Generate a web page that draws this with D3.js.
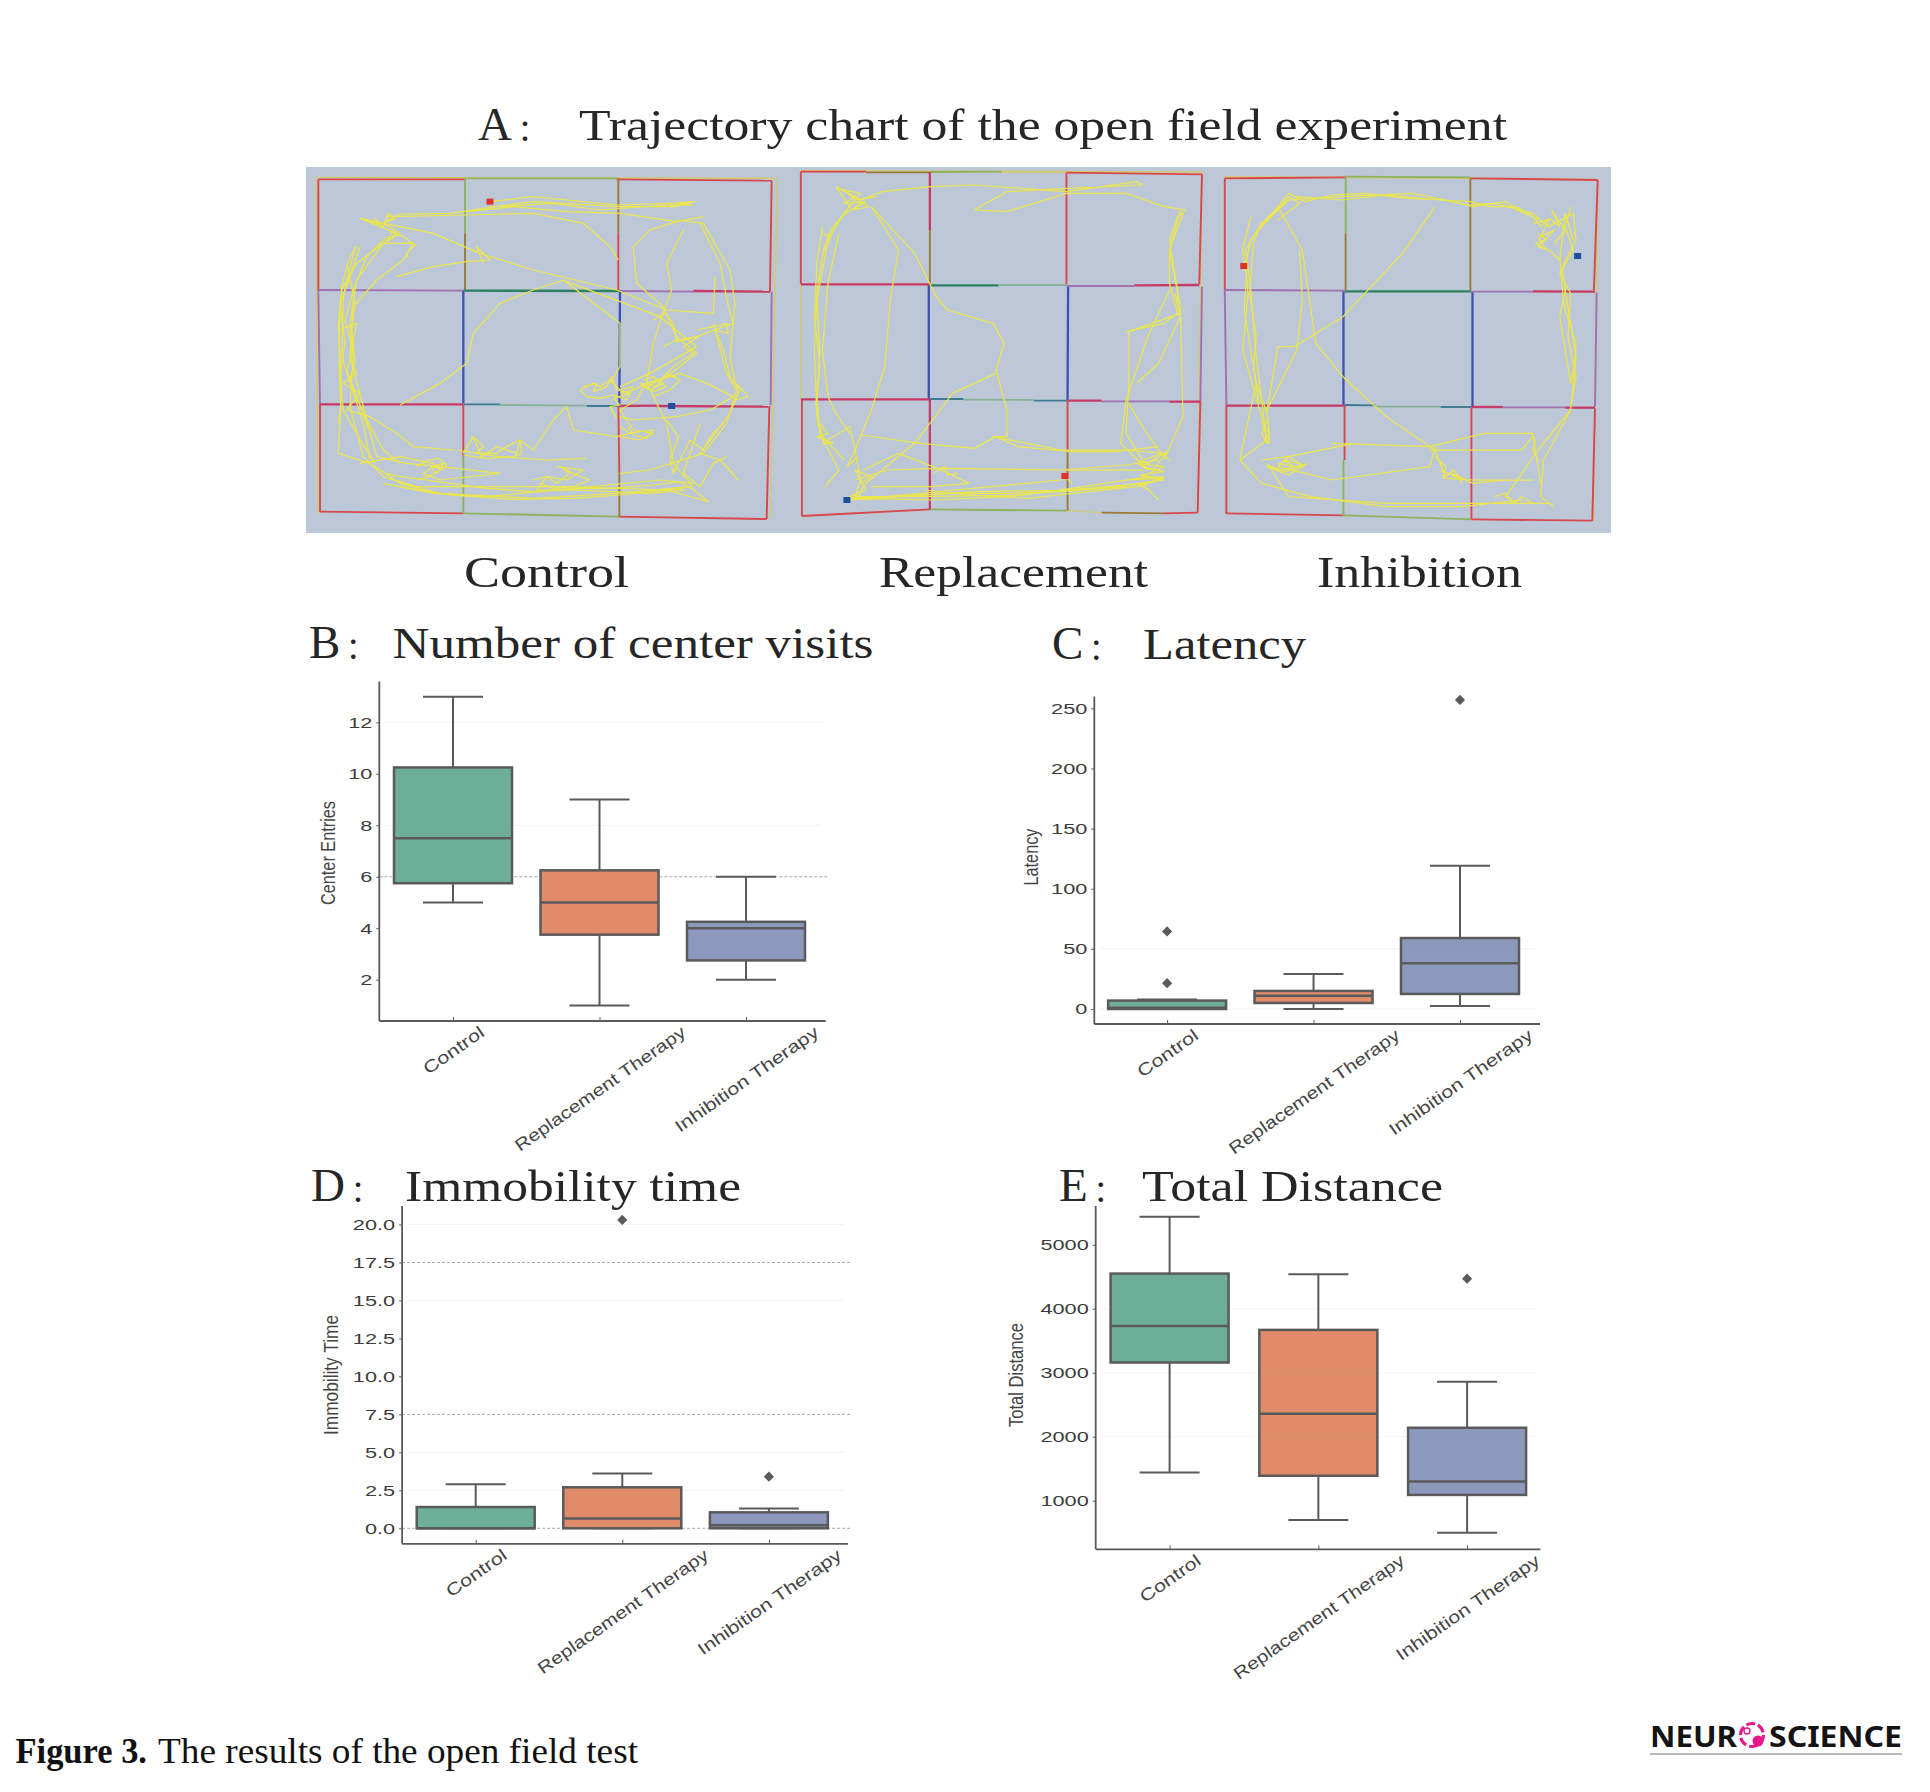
<!DOCTYPE html>
<html><head><meta charset="utf-8">
<script src="https://cdn.jsdelivr.net/npm/d3@7"></script>
<style>html,body{margin:0;padding:0;background:#fff}svg{display:block}</style>
</head><body><svg id="c" width="1930" height="1792"></svg>
<script>
// ---------- data ----------
const categories = ["Control","Replacement Therapy","Inhibition Therapy"];
const arenaNames = ["Control","Replacement","Inhibition"];
// box stats: [whiskerLow, q1, median, q3, whiskerHigh]
const centerEntries = [[5,5.75,7.5,10.25,13],[1,3.75,5,6.25,9],[2,2.75,4,4.25,6]];
const centerOutliers = [[],[],[]];
const centerTicks = [2,4,6,8,10,12];
const latency = [[0,0,1,7,8],[0,5,11,15,29],[2.5,12.5,38,59,119]];
const latencyOutliers = [[21.5,64.5],[],[257]];
const latencyTicks = [0,50,100,150,200,250];
const immobility = [[0,0,0,1.4,2.9],[0,0,0.65,2.7,3.6],[0,0,0.2,1.05,1.3]];
const immobilityOutliers = [[],[20.3],[3.4]];
const immobilityTicks = [0,2.5,5,7.5,10,12.5,15,17.5,20];
const distance = [[1440,3160,3730,4550,5440],[700,1390,2360,3670,4540],[500,1090,1300,2140,2860]];
const distanceOutliers = [[],[],[4470]];
const distanceTicks = [1000,2000,3000,4000,5000];

// tracking-software traces, in camera units
const controlTracks = [
 [[570,335],[700,320],[950,345],[1110,340],[1185,335],[1100,350],[950,350],[700,335],[570,352],[450,370],[300,372],[250,400],[180,385],[240,410],[290,430],[250,460],[170,520],[125,600],[115,700],[125,900],[115,1090],[210,1120],[300,1180],[420,1210],[700,1225],[950,1210],[1170,1190],[1225,1235],[1100,1200],[800,1190],[500,1190],[350,1190],[250,1160],[190,1100],[150,950],[160,800],[150,700],[170,570],[250,460],[340,460],[310,510],[230,570],[160,650],[150,800],[190,950],[230,1100],[320,1120],[420,1130],[600,1150]],
 [[250,400],[400,430],[540,490],[700,540],[950,600],[1100,660],[1240,670],[1245,560]],
 [[260,380],[500,375],[700,370],[850,400],[930,470],[955,510]],
 [[290,560],[400,530],[500,515],[570,510],[530,470],[550,520]],
 [[1210,380],[1130,395],[1050,420],[1000,470],[1010,580],[1090,650],[1130,740],[1190,790],[1100,860],[1040,890]],
 [[1130,390],[1210,400],[1290,540],[1305,640],[1290,800],[1310,900],[1280,1000],[1210,1090],[1050,1140],[960,1150]],
 [[1150,420],[1100,520],[1115,600],[1085,680],[1060,760],[1040,880],[1100,1000],[1120,1120],[1180,1190]],
 [[1200,400],[1260,520],[1285,650],[1300,700],[1270,710],[1190,740],[1130,750],[1090,770]],
 [[1240,700],[1280,850],[1315,910],[1290,970],[1200,1090],[1260,1110],[1315,1170],[1280,1130]],
 [[700,600],[600,640],[520,730],[500,820],[420,880],[300,945]],
 [[700,600],[790,570],[960,700],[960,830],[930,880]],
 [[800,575],[880,605],[1080,680],[1190,770],[1050,850],[960,890]],
 [[840,900],[880,880],[900,890],[930,870],[960,900],[1000,890],[980,930],[940,915],[900,925],[860,920],[840,900]],
 [[960,910],[1000,900],[1040,880],[1070,870],[1100,890],[1060,905],[1030,890],[1010,930],[960,960],[1000,1020],[1060,1030],[1020,1050],[960,1040]],
 [[1040,880],[1140,850],[1220,880],[1300,920],[1230,960],[1130,980],[1000,990],[960,980]],
 [[800,950],[820,1020],[950,1040],[990,1030]],
 [[800,950],[760,990],[700,1080],[660,1050],[650,1090],[590,1070],[545,1100],[520,1040],[490,1090]],
 [[470,1080],[600,1100],[740,1110],[860,1105]],
 [[180,1120],[300,1100],[400,1120],[430,1140],[400,1130],[370,1150],[420,1170],[600,1150]],
 [[770,1130],[850,1140],[800,1170],[740,1160],[710,1200],[830,1200],[1050,1210],[1160,1200]],
 [[250,1180],[400,1210],[560,1220],[820,1195],[1080,1170],[1180,1180]],
 [[115,720],[170,700],[150,800],[170,850],[130,880],[180,910],[140,960],[210,980],[290,1030],[340,1070],[460,1080]],
 [[165,470],[130,620],[125,800],[190,1000],[210,1110]],
 [[180,470],[150,560],[120,640],[135,760],[120,860],[130,960],[175,1040],[225,1120]],
 [[140,520],[165,640],[155,720],[165,810],[150,870],[185,960],[215,1040]],
 [[260,440],[200,500],[160,600],[135,690],[160,780],[140,840],[170,920],[195,980],[250,1080],[300,1120]],
 [[170,470],[150,500],[125,590],[118,720],[118,840],[122,950],[115,1000]],
 [[185,385],[215,395],[240,405],[225,385],[250,410],[265,370],[285,385],[250,400],[300,430],[260,455],[275,425],[310,440],[345,465],[320,490],[325,505]],
 [[1100,340],[1130,350],[1150,340],[1175,345],[1145,345],[1110,352]],
 [[260,1150],[300,1160],[380,1170],[450,1180],[560,1195],[700,1205],[840,1195],[930,1195],[1060,1185],[1140,1175],[1170,1195]],
 [[300,1190],[450,1215],[640,1228],[820,1225],[960,1215],[1150,1195]],
 [[350,1130],[385,1110],[415,1105],[440,1125],[405,1150],[395,1130],[430,1120],[415,1145],[385,1160],[350,1170]],
 [[700,1170],[740,1160],[770,1180],[810,1150],[780,1130],[830,1155],[870,1170],[820,1190],[760,1195],[720,1180]],
 [[1060,690],[1095,670],[1120,700],[1130,755],[1170,745],[1195,740],[1150,770],[1180,790],[1150,810],[1120,830],[1090,860],[1130,860]],
 [[1190,720],[1240,710],[1280,700],[1285,730],[1245,720],[1270,780],[1290,860],[1320,900],[1305,930],[1345,920],[1310,880]],
 [[850,890],[890,880],[880,905],[920,890],[935,860],[950,900],[990,910],[940,925],[960,945],[930,950],[950,985]],
 [[1030,870],[1060,860],[1090,880],[1050,900],[1020,880],[1070,890],[1100,850],[1140,870],[1110,900],[1060,920]],
 [[960,1010],[990,1030],[1020,1025],[1060,1020],[1040,1045],[1000,1035],[985,1010]],
 [[1100,990],[1135,1040],[1110,1110],[1120,1150],[1170,1050],[1210,1080],[1230,1040],[1270,1000]],
 [[1200,1000],[1180,1060],[1150,1150],[1200,1190],[1240,1120],[1280,1100]],
 [[520,1040],[550,1070],[530,1090],[590,1090],[620,1070],[660,1050],[665,1090],[640,1100],[560,1105],[490,1095]],
 [[600,350],[760,340],[900,360],[1100,345]],
 [[500,365],[640,350],[800,365],[960,370],[1130,395]]
];
const replacementTracks = [
 [[85,110],[130,150],[170,125],[260,110],[340,105],[510,125],[640,95],[650,105],[510,115],[400,125],[340,180],[400,185],[510,130],[620,130],[690,170],[730,180],[715,200],[700,270],[715,420],[715,460],[720,490],[625,545],[625,700],[620,850],[650,930],[690,910]],
 [[130,160],[95,200],[70,270],[50,450],[55,600],[50,750],[55,850],[90,960],[65,1010]],
 [[85,110],[110,170],[75,240],[62,300],[50,420],[45,600],[50,800],[60,860],[100,930]],
 [[150,170],[200,300],[185,450],[175,650],[150,780],[120,900],[130,990],[120,1040]],
 [[150,170],[230,310],[270,440],[290,480],[375,520],[395,580],[380,660],[400,780],[400,860],[375,860],[500,900],[620,900],[690,910]],
 [[380,670],[300,730],[230,880],[140,1000],[120,1045]],
 [[130,855],[240,880],[340,895],[380,860],[420,890],[520,905],[600,905],[680,890]],
 [[120,990],[180,960],[280,955],[500,960],[620,945],[680,930]],
 [[120,1040],[250,1040],[420,1035],[520,1015],[640,985],[690,980],[660,1000],[520,1020],[350,1025],[230,1035],[120,1045]],
 [[130,1045],[260,1050],[400,1040],[510,1020],[650,1000],[680,1050]],
 [[135,960],[200,910],[280,960],[330,1000],[260,1010],[150,1010]],
 [[725,190],[700,300],[720,470],[725,800],[690,930]],
 [[700,420],[660,560],[620,750],[610,880],[660,960],[640,940],[690,950],[650,980],[690,990],[640,1000],[660,1020]],
 [[55,820],[70,850],[50,860],[80,880],[60,880],[110,830],[120,900],[105,950],[125,920]],
 [[90,115],[120,140],[100,160],[140,155],[115,180],[145,170],[125,150]],
 [[120,1045],[130,1035],[110,1050],[500,990],[507,978],[520,1000]],
 [[60,250],[75,260],[65,300],[80,240],[100,190],[130,130],[100,120],[120,150],[140,145],[160,140]],
 [[60,230],[50,330],[45,500],[55,640],[48,760],[52,830]],
 [[90,250],[70,400],[60,600],[70,740],[85,790],[110,850]],
 [[130,1000],[150,980],[120,960],[140,1020],[110,1040],[135,1050],[200,1040],[300,1030],[410,1030],[500,1025],[620,1010]],
 [[250,1020],[330,1035],[440,1045],[520,1030],[640,1010],[690,985]],
 [[640,930],[660,940],[680,920],[695,905],[670,960],[650,950],[690,965],[645,975],[680,985],[620,990]],
 [[510,960],[600,960],[650,960]],
 [[620,545],[690,520],[715,490],[700,400],[700,300],[720,180]],
 [[640,700],[680,640],[720,500],[710,430]],
 [[625,760],[650,830],[680,900],[700,930]],
 [[265,970],[285,950],[290,975],[310,970]]
];
const inhibitionTracks = [
 [[840,345],[850,270],[880,210],[920,150],[1020,140],[1150,130],[1250,165],[1300,160],[1370,190],[1400,230],[1445,190],[1450,270],[1425,350],[1430,420],[1450,620],[1440,780],[1390,930],[1385,1040],[1410,1070]],
 [[840,340],[845,430],[835,600],[870,800],[880,870],[830,930]],
 [[920,150],[870,220],[840,300],[850,420],[860,620],[880,880]],
 [[940,300],[945,450],[935,600],[880,780],[885,880]],
 [[900,170],[945,300],[970,580],[1020,680],[1100,800],[1190,900],[1210,985],[1260,990],[1370,990]],
 [[1190,170],[1130,310],[1020,500],[930,590],[900,590],[880,780]],
 [[1040,880],[920,920],[900,950],[1000,990],[1180,950],[1190,890]],
 [[880,940],[920,1040],[1100,1060],[1290,1060],[1400,1060]],
 [[1000,880],[1180,890],[1280,850],[1370,850],[1385,1000]],
 [[1180,900],[1350,900],[1370,860]],
 [[1440,780],[1380,900],[1320,1040],[1340,1060]],
 [[1430,420],[1420,500],[1440,700],[1450,620]],
 [[1370,220],[1400,210],[1385,260],[1410,240],[1380,290],[1400,300],[1420,330],[1430,190],[1445,270]],
 [[880,200],[900,180],[870,230],[920,140],[940,160],[900,210]],
 [[900,940],[930,950],[910,930],[950,945],[915,965],[880,945]],
 [[870,820],[885,850],[875,870],[885,880]],
 [[1200,960],[1240,990],[1220,970],[1260,1000],[1320,990]],
 [[850,200],[835,300],[842,380],[838,480],[850,600],[860,700],[880,790]],
 [[870,215],[855,280],[848,430],[860,560],[855,650],[865,760]],
 [[890,190],[920,130],[950,155],[1000,135],[1060,130],[1140,145],[1210,150],[1260,170],[1320,155],[1350,185]],
 [[930,140],[1020,150],[1100,135],[1200,150],[1255,155],[1290,170],[1340,170],[1380,210]],
 [[1440,170],[1430,230],[1445,300],[1420,370],[1440,430],[1435,560],[1450,680],[1440,770]],
 [[1420,320],[1425,420],[1430,480],[1450,580],[1445,700]],
 [[860,700],[840,850],[830,930],[870,1000],[960,1040],[1100,1070],[1240,1070],[1350,1050]],
 [[870,930],[920,920],[945,945],[905,960],[880,950],[920,975],[955,940]],
 [[1370,850],[1375,880],[1370,900],[1380,930]],
 [[1190,920],[1210,950],[1205,985],[1225,960],[1240,1000]],
 [[1300,1040],[1320,1030],[1335,1060],[1350,1040],[1370,1060]],
 [[1380,250],[1395,270],[1375,280],[1395,300],[1380,260]],
 [[1340,180],[1370,200],[1385,230],[1400,205],[1420,230],[1405,180],[1430,240],[1410,280]],
 [[880,810],[870,850],[880,880],[875,830]]
];
// [x1,y1,x2,y2,colourIndex] in camera units
const wallColours = ["#d9474a","#8fb25e","#a36fb0","#3f4fb4","#2f8060","#c83a66","#9a7a35","#d4ca6c","#3f7a92","#8cb096"];
const controlWalls = [[45,262,1432,265,7],[1432,265,1412,1285,7],[48,265,54,1272,7],
 [55,268,495,268,0],[495,265,950,265,1],[950,268,1415,272,0],[55,268,55,600,0],[55,600,60,945,2],[60,945,60,1265,0],
 [60,1265,490,1270,0],[490,1270,955,1280,1],[955,1280,1400,1287,0],[1415,272,1410,605,0],[1415,605,1412,945,2],[1408,948,1400,1287,0],
 [495,265,495,430,1],[495,430,495,600,6],[490,602,490,940,3],[490,945,490,1100,0],[490,1100,490,1270,1],
 [955,265,955,430,6],[955,430,955,600,0],[960,605,958,945,3],[955,950,958,1150,0],[958,1150,958,1280,6],
 [55,600,490,602,2],[490,602,960,603,4],[960,603,1180,605,2],[1180,603,1410,605,5],
 [60,943,490,943,5],[490,943,600,943,8],[600,945,860,947,9],[860,948,955,948,8],[955,948,1070,947,5],[1070,948,1405,950,5]];
const replacementWalls = [[760,66,752,1090,7],[20,62,760,66,7],
 [20,65,140,65,0],[140,67,260,67,6],[260,66,390,65,1],[390,66,510,66,7],[510,68,760,73,0],
 [20,65,20,403,0],[20,403,20,748,7],[22,748,22,1098,0],[22,1098,258,1078,0],[258,1078,510,1082,1],[510,1082,575,1088,7],[575,1088,690,1090,6],[690,1090,752,1088,0],
 [760,73,755,403,0],[760,410,757,755,2],[757,755,752,1088,0],
 [258,66,258,240,5],[258,240,258,403,6],[256,406,256,748,3],[258,750,258,1078,5],
 [510,68,510,403,0],[513,408,512,750,3],[512,752,512,900,0],[512,900,512,1082,6],
 [20,403,258,403,5],[258,406,385,406,4],[385,405,510,405,9],[510,408,635,408,2],[635,406,755,405,5],
 [20,748,258,748,5],[258,747,320,747,8],[320,749,450,750,9],[450,752,512,752,8],[512,752,575,752,5],[575,754,700,754,2],[700,755,757,755,5]];
const inhibitionWalls = [[800,80,1490,88,7],[1490,88,1482,1112,7],
 [802,85,1025,82,0],[1025,80,1255,82,1],[1255,85,1490,90,0],[802,85,802,420,0],[802,420,805,767,2],[805,767,805,1092,0],
 [805,1090,1020,1096,0],[1020,1096,1258,1108,1],[1258,1108,1480,1112,0],[1490,90,1483,420,0],[1488,428,1485,770,2],[1485,775,1480,1112,0],
 [1025,82,1025,250,1],[1025,250,1025,420,6],[1021,424,1021,765,3],[1023,767,1023,930,0],[1021,930,1021,1096,1],
 [1255,85,1255,420,6],[1259,425,1259,770,3],[1257,772,1257,1108,0],
 [802,420,1023,422,2],[1023,424,1257,424,4],[1257,425,1370,425,2],[1370,424,1485,425,5],
 [805,767,1023,767,5],[1023,765,1080,766,8],[1080,770,1200,770,9],[1200,771,1257,771,8],[1257,771,1315,771,5],[1315,772,1430,772,2],[1430,773,1485,773,5]];
// start & end markers [x,y]
const controlMarks = [[570,335],[1115,948]];
const replacementMarks = [[507,978],[105,1050]];
const inhibitionMarks = [[837,348],[1453,318]];

// ---------- layout & style ----------
const svg = d3.select("#c");
const fills = ["#6DAE98","#E08C6A","#8C99BC"];
const serif = "'Liberation Serif','Noto Sans CJK TC',serif";
const fit = (s,len)=>s.attr("textLength",len).attr("lengthAdjust","spacingAndGlyphs");
function text(g,str,x,y,size,len,opt={}){
  const t=g.append("text").attr("x",x).attr("y",y).attr("font-family",opt.family||serif)
    .attr("font-size",size).attr("fill",opt.fill||"#262626").attr("font-weight",opt.weight||"normal").attr("text-anchor",opt.anchor||"start").text(str);
  if(len) fit(t,len); return t;
}
function letter(g,str,x,y){ // panel letter followed by a small full-width colon
  const t=g.append("text").attr("x",x).attr("y",y).attr("font-family",serif).attr("font-size",47).attr("fill","#262626");
  t.append("tspan").text(str);
  t.append("tspan").attr("font-size",30).attr("dx",-2).attr("dy",2).text("：");
}
// ----- Panel A -----
svg.append("rect").attr("x",306).attr("y",167).attr("width",1305).attr("height",366).attr("fill","#bcc8d8");
const arenas=[
 {walls:controlWalls,tracks:controlTracks,marks:controlMarks,dx:[0,1560],rx:[300,820],dy:[0,1380],ry:[90,550]},
 {walls:replacementWalls,tracks:replacementTracks,marks:replacementMarks,dx:[0,1568],rx:[790,1640],dy:[0,1380],ry:[150,610]},
 {walls:inhibitionWalls,tracks:inhibitionTracks,marks:inhibitionMarks,dx:[0,1568],rx:[790,1640],dy:[0,1380],ry:[150,610]}
];
const heavy=new Set([3,4,5]);
arenas.forEach(a=>{
  const x=d3.scaleLinear().domain(a.dx).range(a.rx), y=d3.scaleLinear().domain(a.dy).range(a.ry);
  const g=svg.append("g");
  g.selectAll("line").data(a.walls).join("line")
   .attr("x1",d=>x(d[0])).attr("y1",d=>y(d[1])).attr("x2",d=>x(d[2])).attr("y2",d=>y(d[3]))
   .attr("stroke",d=>wallColours[d[4]]).attr("stroke-width",d=>heavy.has(d[4])?2.3:d[4]==7?1.4:1.9);
  const line=d3.line().x(d=>x(d[0])).y(d=>y(d[1]));
  g.selectAll("path").data(a.tracks).join("path").attr("d",line).attr("fill","none")
   .attr("stroke","#ece64a").attr("stroke-width",1.25).attr("stroke-linejoin","round");
  g.selectAll("rect").data(a.marks).join("rect").attr("x",d=>x(d[0])-3.5).attr("y",d=>y(d[1])-3).attr("width",7).attr("height",6)
   .attr("fill",(d,i)=>i==0?"#e0302a":"#1f4f9f");
});
letter(svg,"A",478,140);
text(svg,"Trajectory chart of the open field experiment",579,140,45,928);
const labelX=[[464,165],[879,269],[1317,205]];
arenaNames.forEach((n,i)=>text(svg,n,labelX[i][0],587,45,labelX[i][1]));

// ----- Box panels -----
const panels=[
 {letter:"B",lx:309,title:"Number of center visits",tx:392.5,tw:481,by:658,ylab:"Center Entries",
  stats:centerEntries,out:centerOutliers,ticks:centerTicks,fmt:d3.format("d"),v:[12,2],p:[722.4,979.7],top:681.4,bot:1021,l:379.3,r:825.7,cx:[453,599.5,746],
  labx:327,laby:853,labw:104,dash:[6],faint:[12,8]},
 {letter:"C",lx:1052,title:"Latency",tx:1143,tw:163,by:659,ylab:"Latency",
  stats:latency,out:latencyOutliers,ticks:latencyTicks,fmt:d3.format("d"),v:[250,0],p:[708.3,1009],top:696.6,bot:1024,l:1094.3,r:1540,cx:[1167.1,1313.2,1460],
  labx:1030,laby:857,labw:57,dash:[],faint:[50,0]},
 {letter:"D",lx:311,title:"Immobility time",tx:405,tw:336,by:1200.7,ylab:"Immobility Time",
  stats:immobility,out:immobilityOutliers,ticks:immobilityTicks,fmt:d3.format(".1f"),v:[20,0],p:[1224.5,1528.3],top:1205.9,bot:1543.8,l:402.1,r:848,cx:[475.7,621.8,768.9],
  labx:330,laby:1375,labw:120,dash:[17.5,7.5,0],faint:[20,15,2.5,5]},
 {letter:"E",lx:1059,title:"Total Distance",tx:1142,tw:301,by:1201,ylab:"Total Distance",
  stats:distance,out:distanceOutliers,ticks:distanceTicks,fmt:d3.format("d"),v:[5000,1000],p:[1244.8,1500.7],top:1205.9,bot:1549.3,l:1095.7,r:1540.4,cx:[1169.6,1318.6,1467.1],
  labx:1015,laby:1375,labw:104,dash:[],faint:[4000,3000,2000]}
];
const ink="#5a5a5a";
panels.forEach(P=>{
  letter(svg,P.letter,P.lx,P.by);
  text(svg,P.title,P.tx,P.by,45,P.tw);
  const g=svg.append("g").attr("font-family","'DejaVu Sans'");
  const y=d3.scaleLinear().domain(P.v).range(P.p);
  const x=d3.scalePoint().domain(categories).range([P.cx[0],P.cx[2]]);
  const W=118,C=60;
  g.selectAll("line.dash").data(P.dash).join("line").attr("class","dash").attr("x1",P.l).attr("x2",P.r+2)
    .attr("y1",d=>y(d)).attr("y2",d=>y(d)).attr("stroke","#aaa").attr("stroke-width",1).attr("stroke-dasharray","3 2");
  const b=g.selectAll("g.box").data(categories.map((c,i)=>({c,i,s:P.stats[i],o:P.out[i]}))).join("g").attr("class","box");
  b.append("line").attr("x1",d=>x(d.c)).attr("x2",d=>x(d.c)).attr("y1",d=>y(d.s[0])).attr("y2",d=>y(d.s[1])).attr("stroke",ink).attr("stroke-width",2);
  b.append("line").attr("x1",d=>x(d.c)).attr("x2",d=>x(d.c)).attr("y1",d=>y(d.s[3])).attr("y2",d=>y(d.s[4])).attr("stroke",ink).attr("stroke-width",2);
  [0,4].forEach(k=>b.append("line").attr("x1",d=>x(d.c)-C/2).attr("x2",d=>x(d.c)+C/2).attr("y1",d=>y(d.s[k])).attr("y2",d=>y(d.s[k])).attr("stroke",ink).attr("stroke-width",2));
  b.append("rect").attr("x",d=>x(d.c)-W/2).attr("width",W).attr("y",d=>y(d.s[3])).attr("height",d=>y(d.s[1])-y(d.s[3]))
    .attr("fill",d=>fills[d.i]).attr("stroke",ink).attr("stroke-width",2.5);
  b.append("line").attr("x1",d=>x(d.c)-W/2).attr("x2",d=>x(d.c)+W/2).attr("y1",d=>y(d.s[2])).attr("y2",d=>y(d.s[2])).attr("stroke",ink).attr("stroke-width",2.4);
  b.selectAll("path").data(d=>d.o.map(v=>({v,c:d.c}))).join("path")
    .attr("d",d3.symbol(d3.symbolSquare,52)).attr("transform",d=>`translate(${x(d.c)},${y(d.v)}) rotate(45)`).attr("fill",ink);
  g.selectAll("line.faint").data(P.faint).join("line").attr("class","faint").attr("x1",P.l+6).attr("x2",P.r-4)
    .attr("y1",d=>y(d)).attr("y2",d=>y(d)).attr("stroke","#888").attr("stroke-opacity",.1).attr("stroke-width",1);
  const ay=g.append("g").attr("transform",`translate(${P.l},0)`).call(d3.axisLeft(y).tickValues(P.ticks).tickSize(3).tickPadding(4).tickFormat(P.fmt));
  ay.select(".domain").remove();
  ay.selectAll("line").attr("stroke",ink).attr("stroke-width",1);
  ay.selectAll("text").attr("font-size",15.5).attr("fill","#3c3c3c").each(function(){const n=this.getComputedTextLength();fit(d3.select(this),n*1.4);});
  const ax=g.append("g").attr("transform",`translate(0,${P.bot})`).call(d3.axisBottom(x).tickSize(-4).tickPadding(0));
  ax.select(".domain").remove();
  ax.selectAll("line").attr("stroke",ink).attr("stroke-width",1);
  const targets={"Control":70,"Replacement Therapy":204,"Inhibition Therapy":171};
  const ang=35;
  ax.selectAll("text").attr("font-size",17).attr("fill","#444").attr("text-anchor","middle").attr("dy",0)
    .each(function(d){
      const len=targets[d], cy=9+Math.sin(ang*Math.PI/180)*len/2;
      fit(d3.select(this),len);
      d3.select(this).attr("x",0).attr("y",cy+6).attr("transform",`rotate(${-ang} 0 ${cy})`);
    });
  g.append("line").attr("x1",P.l).attr("x2",P.l).attr("y1",P.top).attr("y2",P.bot).attr("stroke",ink).attr("stroke-width",1.8);
  g.append("line").attr("x1",P.l).attr("x2",P.r).attr("y1",P.bot).attr("y2",P.bot).attr("stroke",ink).attr("stroke-width",1.8);
  const yl=g.append("text").attr("transform",`translate(${P.labx+8},${P.laby}) rotate(-90)`).attr("text-anchor","middle")
    .attr("font-family","'Liberation Sans'").attr("font-size",21).attr("fill","#444").text(P.ylab);
  fit(yl,P.labw);
});
// ----- caption -----
text(svg,"Figure 3.",15.5,1763,36,131.5,{weight:"bold",fill:"#111"});
text(svg,"The results of the open field test",158,1763,36,480,{fill:"#111"});
// ----- logo -----
const logo=svg.append("g");
text(logo,"NEUR",1650,1747,29,87,{family:"'Noto Sans'",weight:"bold",fill:"#141414"});
text(logo,"SCIENCE",1769,1747,29,133,{family:"'Noto Sans'",weight:"bold",fill:"#141414"});
logo.append("circle").attr("cx",1752).attr("cy",1735).attr("r",11.5).attr("fill","none").attr("stroke","#e5178a").attr("stroke-width",3).attr("stroke-dasharray","9 3");
logo.append("circle").attr("cx",1758).attr("cy",1741).attr("r",5.5).attr("fill","#e5178a");
logo.append("circle").attr("cx",1747).attr("cy",1731).attr("r",3).attr("fill","none").attr("stroke","#e5178a").attr("stroke-width",1.4);
logo.append("line").attr("x1",1650).attr("x2",1902).attr("y1",1754).attr("y2",1754).attr("stroke","#777").attr("stroke-width",1);
</script></body></html>
